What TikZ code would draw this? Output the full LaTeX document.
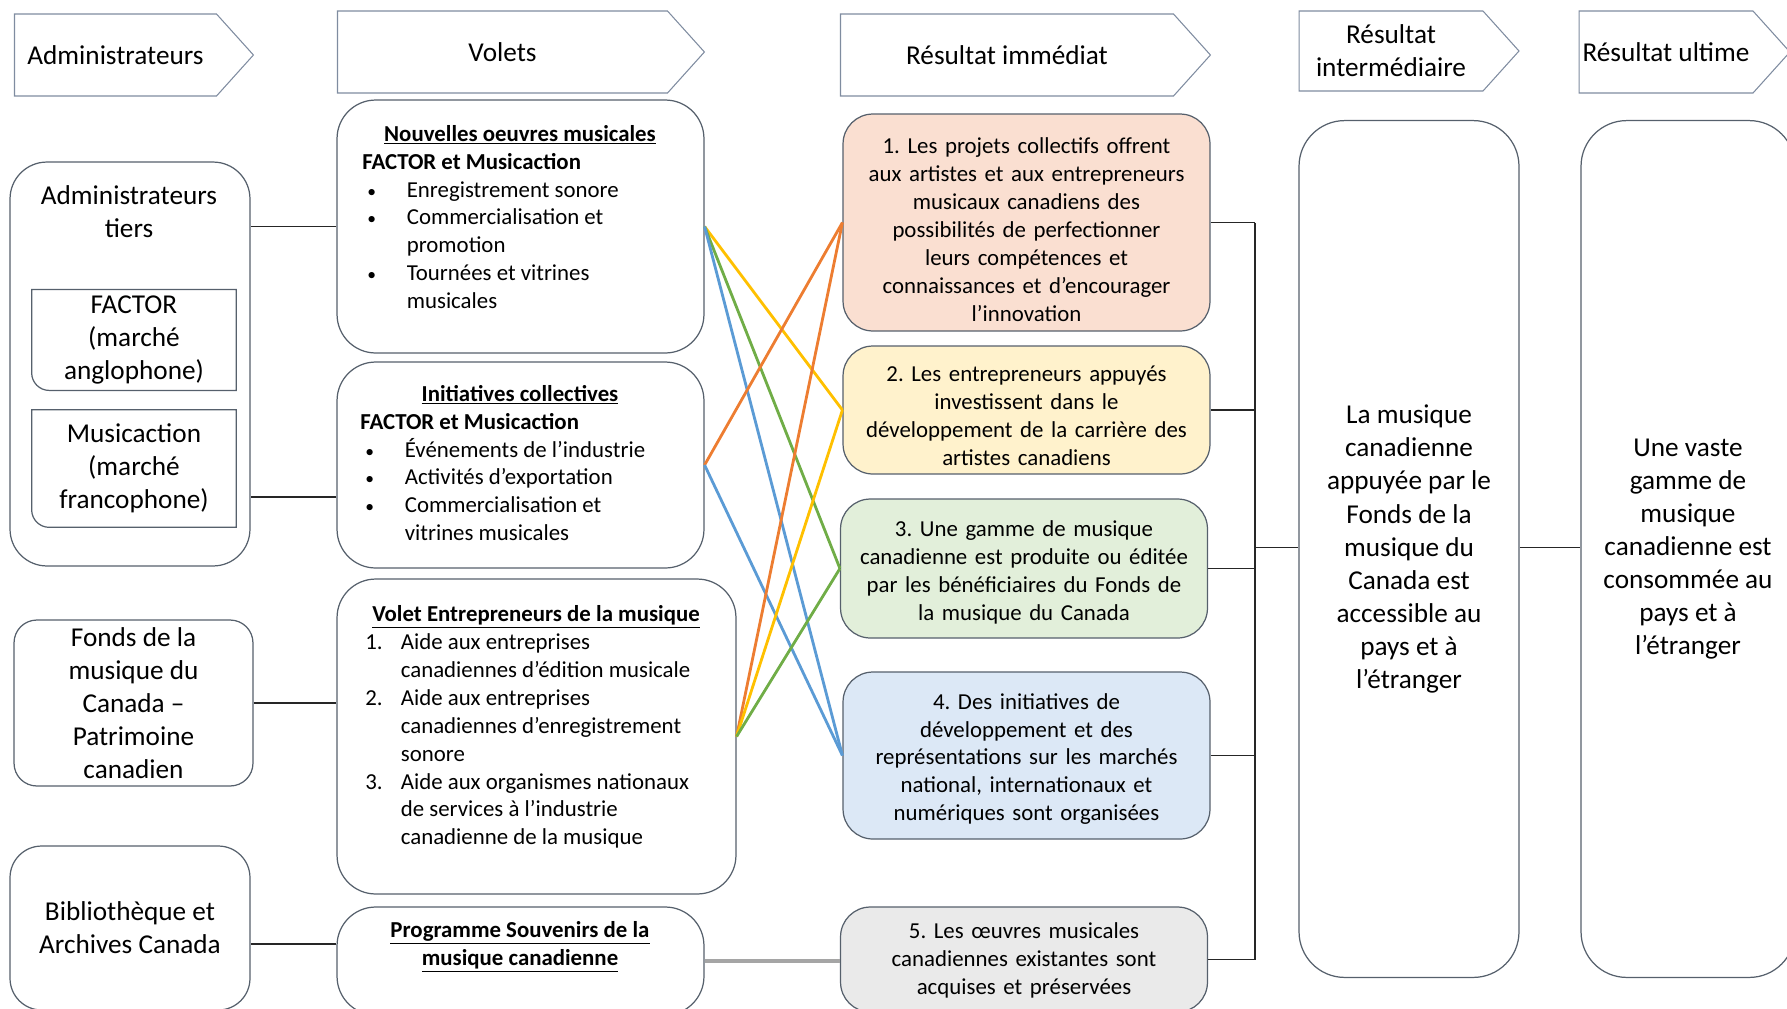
\documentclass[tikz,border=0pt]{standalone}
\usepackage{fontspec}
\setmainfont{Carlito}
\frenchspacing
\usetikzlibrary{calc,shapes.symbols}
\definecolor{pedge}{HTML}{56606C}
\definecolor{phead}{HTML}{7F8CA0}
\definecolor{rorange}{HTML}{FADFD1}
\definecolor{ryellow}{HTML}{FFF2CC}
\definecolor{rgreen}{HTML}{E2EFDA}
\definecolor{rblue}{HTML}{DCE8F6}
\definecolor{rgray}{HTML}{EAEAEA}
\definecolor{lorange}{HTML}{ED7D31}
\definecolor{lyellow}{HTML}{FFC000}
\definecolor{lgreen}{HTML}{70AD47}
\definecolor{lblue}{HTML}{5B9BD5}
\definecolor{lgray}{HTML}{A5A5A5}
\newcommand{\fs}{\fontsize{13}{15.9}\selectfont}
\newcommand{\fl}{\fontsize{15.5}{18.8}\selectfont}
\newcommand{\bul}{\makebox[0.89cm][l]{\hspace{0.1cm}{\fontsize{10}{10}\selectfont\textbullet}}}
\newcommand{\nbr}[1]{\makebox[0.71cm][l]{#1}}
\newcommand{\cont}[1][0.89cm]{\hspace*{#1}}
\newcommand{\ttl}[1]{\underline{\textbf{#1}}}

\begin{document}
\begin{tikzpicture}[x=0.02cm,y=-0.02cm,font=\fs,
    hdr/.style={shape=signal,signal to=east,signal from=nowhere,signal pointer angle=96,
      draw=phead,line width=0.6pt,fill=white,font=\fl,align=center,minimum height=1.64cm,inner sep=2pt},
    lbox/.style={draw=pedge,line width=0.7pt,align=center,font=\fl},
    vbox/.style={draw=pedge,line width=0.7pt,rounded corners=22pt},
    vlist/.style={align=left,anchor=west,inner sep=0pt},
    rbox/.style={draw=pedge,line width=0.7pt,rounded corners=17pt,minimum width=7.34cm},
    rtxt/.style={align=center,text width=7cm,inner sep=0pt},
    wire/.style={line width=0.8pt,black!85},
    link/.style={line width=1.6pt}]
  \useasboundingbox (0,0) rectangle (1787,1008);
  \clip (0,0) rectangle (1787,1008);

  % en-tetes
  \node[hdr,minimum width=4.78cm] (hAdm) at (115.5,55) {Administrateurs};
  \node[hdr,minimum width=7.34cm] (hVol) at (502.5,52) {Volets};
  \node[hdr,minimum width=7.4cm] (hImm) at (1007,55) {Résultat immédiat};
  \node[hdr,minimum width=4.4cm,minimum height=1.6cm] (hInt) at (1391,51) {Résultat\\intermédiaire};
  \node[hdr,minimum width=4.12cm] (hUlt) at (1666,52) {Résultat ultime};

  % administrateurs
  \node[lbox,rounded corners=21pt,minimum width=4.8cm,minimum height=8.08cm] (admT) at (130,364) {};
  \node[font=\fl,align=center] (admTxt) at (129,212) {Administrateurs\\tiers};
  \node[font=\fl,align=center,minimum width=4.08cm,minimum height=1.92cm] (factor) at (134,340) {FACTOR\\(marché\\anglophone)};
  \draw[pedge,line width=0.7pt] (factor.north west) -- (factor.north east) -- (factor.south east)
    [rounded corners=10pt] -- (factor.south west) [sharp corners] -- cycle;
  \node[font=\fl,align=center,minimum width=4.08cm,minimum height=2.34cm] (musicact) at (134,468.5) {Musicaction\\(marché\\francophone)};
  \draw[pedge,line width=0.7pt] (musicact.north west) -- (musicact.north east) -- (musicact.south east)
    [rounded corners=10pt] -- (musicact.south west) [sharp corners] -- cycle;
  \node[lbox,rounded corners=13pt,minimum width=4.78cm,minimum height=3.32cm] (fonds) at (133.5,703) {Fonds de la\\musique du\\Canada –\\Patrimoine\\canadien};
  \node[lbox,rounded corners=18pt,minimum width=4.8cm,minimum height=3.28cm] (biblio) at (130,928) {Bibliothèque et\\Archives Canada};

  % volets
  \node[vbox,minimum width=7.34cm,minimum height=5.06cm] (nouv) at (520.5,226.5) {};
  \node (nouvT) at (520,135) {\ttl{Nouvelles oeuvres musicales}};
  \node[vlist] (nouvL) at (362,231) {\textbf{FACTOR et Musicaction}\\
    \bul Enregistrement sonore\\ \bul Commercialisation et\\ \cont promotion\\
    \bul Tournées et vitrines\\ \cont musicales};
  \node[vbox,minimum width=7.34cm,minimum height=4.12cm] (init) at (520.5,465) {};
  \node (initT) at (520,395) {\ttl{Initiatives collectives}};
  \node[vlist] (initL) at (360,477) {\textbf{FACTOR et Musicaction}\\
    \bul Événements de l’industrie\\ \bul Activités d’exportation\\
    \bul Commercialisation et\\ \cont vitrines musicales};
  \node[vbox,minimum width=7.98cm,minimum height=6.3cm] (entr) at (536.5,736.5) {};
  \node (entrT) at (536,617) {\ttl{Volet Entrepreneurs de la musique}};
  \node[vlist] (entrL) at (365,741) {\nbr{1.}Aide aux entreprises\\
    \cont[0.71cm]canadiennes d’édition musicale\\ \nbr{2.}Aide aux entreprises\\
    \cont[0.71cm]canadiennes d’enregistrement\\ \cont[0.71cm]sonore\\
    \nbr{3.}Aide aux organismes nationaux\\ \cont[0.71cm]de services à l’industrie\\
    \cont[0.71cm]canadienne de la musique};
  \node[vbox,minimum width=7.34cm,minimum height=2.16cm] (souv) at (520.5,961) {};
  \node[align=center] (souvT) at (520,947) {\ttl{Programme Souvenirs de la}\\ \ttl{musique canadienne}};

  % resultats immediats
  \node[rbox,fill=rorange,minimum height=4.34cm] (r1) at (1026.5,222.5) {};
  \node[rtxt] (r1t) at ([yshift=-0.14cm]r1.center) {1. Les projets collectifs offrent\\
    aux artistes et aux entrepreneurs\\ musicaux canadiens des\\ possibilités de perfectionner\\
    leurs compétences et\\ connaissances et d’encourager\\ l’innovation};
  \node[rbox,fill=ryellow,minimum height=2.56cm] (r2) at (1026.5,410) {};
  \node[rtxt] (r2t) at ([yshift=-0.11cm]r2.center) {2. Les entrepreneurs appuyés\\
    investissent dans le\\ développement de la carrière des\\ artistes canadiens};
  \node[rbox,fill=rgreen,minimum height=2.78cm] (r3) at (1024,568.5) {};
  \node[rtxt] (r3t) at ([yshift=-0.07cm]r3.center) {3. Une gamme de musique\\
    canadienne est produite ou éditée\\ par les bénéficiaires du Fonds de\\ la musique du Canada};
  \node[rbox,fill=rblue,minimum height=3.34cm] (r4) at (1026.5,755.5) {};
  \node[rtxt] (r4t) at ([yshift=-0.07cm]r4.center) {4. Des initiatives de\\
    développement et des\\ représentations sur les marchés\\ national, internationaux et\\
    numériques sont organisées};
  \node[rbox,fill=rgray,minimum height=2.1cm] (r5) at (1024,959.5) {};
  \node[rtxt] (r5t) at ([yshift=-0.02cm]r5.center) {5. Les œuvres musicales\\
    canadiennes existantes sont\\ acquises et préservées};

  % resultats intermediaire et ultime
  \node[lbox,rounded corners=26pt,minimum width=4.4cm,minimum height=17.14cm] (inter) at (1409,549) {La musique\\
    canadienne\\ appuyée par le\\ Fonds de la\\ musique du\\ Canada est\\ accessible au\\ pays et à\\ l’étranger};
  \node[lbox,rounded corners=26pt,minimum width=4.28cm,minimum height=17.14cm] (ult) at (1688,549) {Une vaste\\
    gamme de\\ musique\\ canadienne est\\ consommée au\\ pays et à\\ l’étranger};

  % liens
  \draw[wire] (nouv.west) -- (nouv.west -| admT.east);
  \coordinate (initIn) at ($(init.west)+(0,32)$);
  \draw[wire] (initIn) -- (initIn -| admT.east);
  \draw[wire] (fonds.east) -- (fonds.east -| entr.west);
  \coordinate (souvIn) at ($(souv.west)+(0,-17)$);
  \draw[wire] (souvIn) -- (souvIn -| biblio.east);
  \draw[link,lgray,line width=2.2pt] (souv.east) -- (souv.east -| r5.west);

  \draw[link,lyellow] (nouv.east) -- (r2.west);
  \draw[link,lgreen] (nouv.east) -- (r3.west);
  \draw[link,lblue] (nouv.east) -- (r4.west);
  \draw[link,lorange] (init.east) -- (r1.west);
  \draw[link,lblue] (init.east) -- (r4.west);
  \draw[link,lorange] (entr.east) -- (r1.west);
  \draw[link,lyellow] (entr.east) -- (r2.west);
  \draw[link,lgreen] (entr.east) -- (r3.west);

  \coordinate (bus) at (1255,547.5);
  \foreach \r in {r1,r2,r3,r4,r5}
    \draw[wire] (\r.east) -- (\r.east -| bus);
  \draw[wire] (r1.east -| bus) -- (r5.east -| bus);
  \draw[wire] (bus) -- (bus -| inter.west);
  \draw[wire] (bus -| inter.east) -- (bus -| ult.west);
\end{tikzpicture}
\end{document}
